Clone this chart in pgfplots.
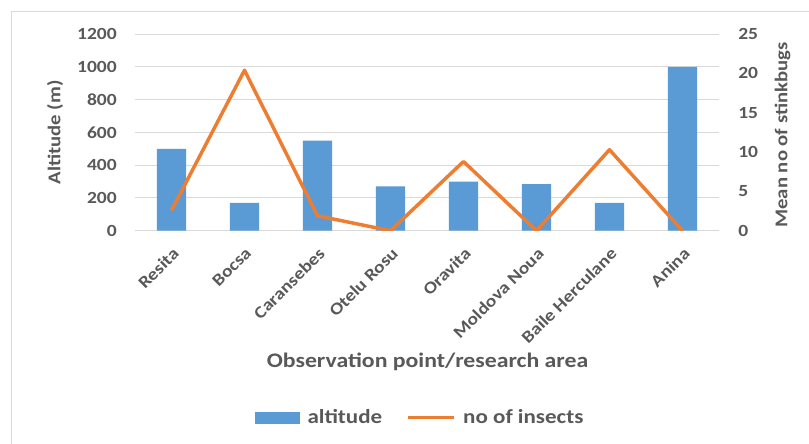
\documentclass[border=0pt]{standalone}
\usepackage{fontspec}
\setmainfont{Carlito}[FakeStretch=1.15]
\usepackage{pgfplots}
\usepackage{pgfplotstable}
\pgfplotsset{compat=1.18}
\definecolor{barblue}{HTML}{5B9BD5}
\definecolor{lineorange}{HTML}{ED7D31}
\definecolor{txtgray}{HTML}{595959}
\definecolor{gridgray}{HTML}{D9D9D9}

% altitude (m) and mean number of stinkbugs per site
\pgfplotstableread{
idx alt ins
0 500 2.6
1 170 20.4
2 550 1.9
3 270 0
4 300 8.8
5 285 0
6 170 10.3
7 1000 0
}\datatable

\pgfplotsset{chartbase/.style={
    scale only axis, width=438pt, height=147.5pt,
    at={(101.25pt,159.2pt)}, anchor=south west,
    xmin=-0.5, xmax=7.5, xtick={0,...,7},
    major tick length=0pt,
    axis line style={draw=none},
    tick label style={font=\fontsize{12.75pt}{14pt}\selectfont\bfseries, text=txtgray},
    /pgf/number format/assume math mode=true,
    /pgf/number format/1000 sep={},
}}

\begin{document}
\begin{tikzpicture}
\useasboundingbox[fill=white] (0,0) rectangle (606.75pt,332.25pt);
\draw[gridgray, line width=0.75pt] (8.25pt,-5pt) |- (615pt,323.6pt);

\begin{axis}[chartbase,
    ymin=0, ymax=1200, ytick={0,200,...,1200},
    ymajorgrids, grid style={gridgray, line width=0.75pt},
    xticklabels={Resita,Bocsa,Caransebes,Otelu Rosu,Oravita,Moldova Noua,Baile Herculane,Anina},
    xticklabel style={yshift=-11.5pt, xshift=0pt, rotate=45, anchor=north east, inner sep=0pt},
    yticklabel style={inner xsep=0pt, xshift=-13.5pt},
    ylabel={Altitude (m)},
    every axis y label/.style={at={(rel axis cs:-0.137,0.5)}, rotate=90, anchor=center,
        font=\fontsize{13.5pt}{15pt}\selectfont\bfseries, text=txtgray},
    xlabel={Observation point/research area},
    every axis x label/.style={at={(rel axis cs:0.501,-0.667)}, anchor=center,
        font=\fontsize{15.5pt}{17pt}\selectfont\bfseries, text=txtgray},
]
\addplot[ybar, bar width=0.4, fill=barblue, draw=none] table[x=idx, y=alt] {\datatable};
\end{axis}

\begin{axis}[chartbase,
    ymin=0, ymax=25, ytick={0,5,...,25},
    axis y line*=right, hide x axis,
    yticklabel style={inner xsep=0pt, xshift=14.25pt},
    ylabel={Mean no of stinkbugs},
    every axis y label/.style={at={(rel axis cs:1.109,0.487)}, rotate=90, anchor=center,
        font=\fontsize{13.5pt}{15pt}\selectfont\bfseries, text=txtgray},
    legend style={at={(rel axis cs:0.489,-0.952)}, anchor=center, draw=none, fill=none,
        font=\fontsize{15pt}{17pt}\selectfont\bfseries, text=txtgray,
        /tikz/every odd column/.append style={column sep=4pt},
        /tikz/every even column/.append style={column sep=16pt}},
    legend columns=2,
]
\addlegendimage{legend image code/.code={\fill[barblue] (0pt,-4.1pt) rectangle (33pt,4.1pt);}}
\addlegendentry{altitude}
\addplot[lineorange, line width=2.6pt, line join=round,
    legend image code/.code={\draw[lineorange, line width=2.25pt] (0pt,0pt) -- (34.5pt,0pt);}]
    table[x=idx, y=ins] {\datatable};
\addlegendentry{no of insects}
\end{axis}
\end{tikzpicture}
\end{document}
